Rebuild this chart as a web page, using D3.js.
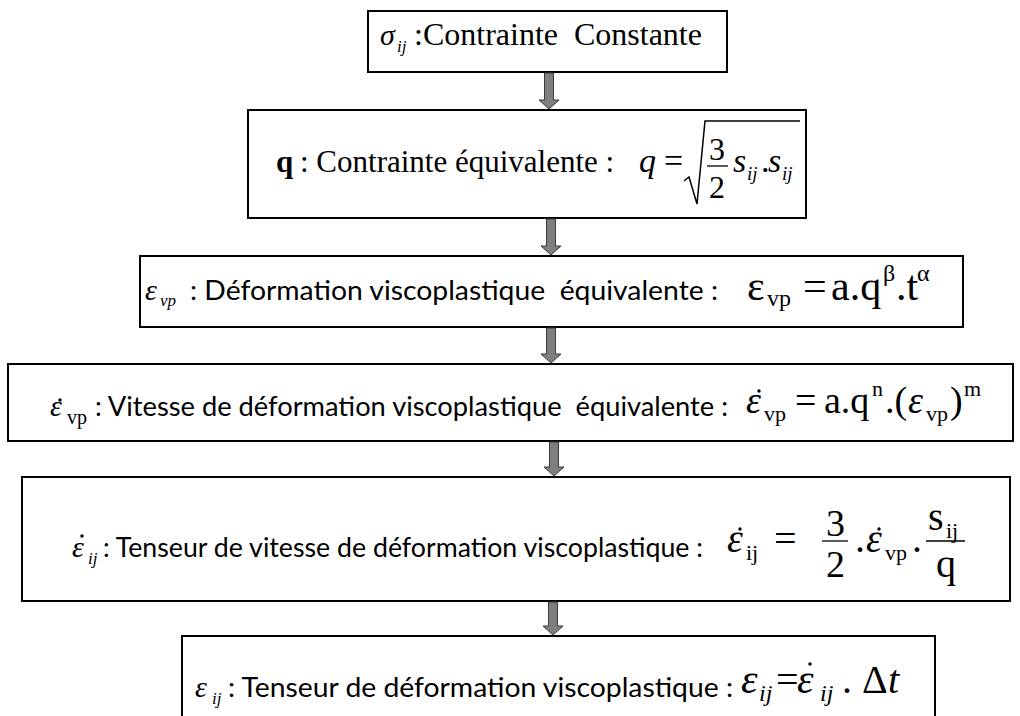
<!DOCTYPE html>
<html><head><meta charset="utf-8">
<script src="https://cdn.jsdelivr.net/npm/d3@7"></script>
<style>body{margin:0;background:#fff} text{white-space:pre}</style>
</head><body><svg id="c" width="1020" height="716"></svg>
<script>
// ---- content ----
const stepSymbols = ["σ", "q", "ε", "ε", "ε", "ε"];
const stepSubs = ["ij", "", "vp", "vp", "ij", "ij"];
const stepLabels = [
  ":Contrainte  Constante",
  ": Contrainte équivalente :",
  ": Déformation viscoplastique  équivalente :",
  ": Vitesse de déformation viscoplastique  équivalente :",
  ": Tenseur de vitesse de déformation viscoplastique :",
  ": Tenseur de déformation viscoplastique :"
];

const svg = d3.select("#c");
const SERIF = "Liberation Serif";
const SANS = "Lato";

// ---- layout ----
const boxes = [[368,11,727,72],[248,110,806,218],[140,256,963,327],[8,364,1013,441],[22,477,1010,601],[182,636,935,730]];
const arrowX = [549,551,551,554,553];

svg.selectAll("rect.box").data(boxes).join("rect").attr("class","box")
  .attr("x",d=>d[0]).attr("y",d=>d[1]).attr("width",d=>d[2]-d[0]).attr("height",d=>d[3]-d[1])
  .attr("fill","#fff").attr("stroke","#000").attr("stroke-width",2);

const arrows = arrowX.map((x,i)=>({x, y0:boxes[i][3]+1, y1:boxes[i+1][1]-1}));
svg.selectAll("path.arrow").data(arrows).join("path").attr("class","arrow")
  .attr("d",a=>{const s=4.5,h=10,l=9;return `M${a.x-s},${a.y0}H${a.x+s}V${a.y1-l}H${a.x+h}L${a.x},${a.y1}L${a.x-h},${a.y1-l}H${a.x-s}Z`;})
  .attr("fill","#7f7f7f").attr("stroke","#3a3a3a").attr("stroke-width",1);

function T(x,y,str,o){
  const t=svg.append("text").attr("x",x).attr("y",y).text(str)
    .style("font-family",o.f||(o.sans?SANS:SERIF)).style("font-size",o.s+"px")
    .style("font-style",o.i?"italic":"normal").style("font-weight",o.b?"bold":"normal").attr("fill","#000");
  if(o.len) t.attr("textLength",o.len).attr("lengthAdjust","spacingAndGlyphs");
  return t;
}
function dot(x,y){svg.append("circle").attr("cx",x).attr("cy",y).attr("r",1.7).attr("fill","#000");}
function line(x1,y1,x2,y2,w){svg.append("line").attr("x1",x1).attr("y1",y1).attr("x2",x2).attr("y2",y2).attr("stroke","#000").attr("stroke-width",w||1.3);}

// Box 1
T(380,45,stepSymbols[0],{s:30,i:true}); T(397,52,stepSubs[0],{s:17,i:true});
T(414,45,stepLabels[0],{s:32});
// Box 2
T(276,172,stepSymbols[1],{s:31,b:true});
T(300,172,stepLabels[1],{s:31});
T(639,172,"q",{s:34,i:true}); T(664,172,"=",{s:34});
svg.append("path").attr("d","M684,181L689,177L697,204L705,121H800").attr("fill","none").attr("stroke","#000").attr("stroke-width",1.5);
T(709,160,"3",{s:32}); line(707,166,728,166); T(709,198,"2",{s:32});
T(733,172,"s",{s:34,i:true}); T(747,180,"ij",{s:19,i:true});
T(761,172,".",{s:34}); T(768,172,"s",{s:34,i:true}); T(782,180,"ij",{s:19,i:true});
// Box 3
T(145,300,stepSymbols[2],{s:30,i:true}); T(160,306,stepSubs[2],{s:17,i:true});
T(190,300,stepLabels[2],{s:26,sans:true,len:528});
T(747,300,"ε",{s:42}); T(767,306,"vp",{s:24});
T(803,300,"=",{s:42}); T(831,300,"a.q",{s:42}); T(883,281,"β",{s:24});
T(896,300,".t",{s:42}); T(917,281,"α",{s:24});
// Box 4
T(50,416,stepSymbols[3],{s:30,i:true}); dot(60,400); T(67,424,stepSubs[3],{s:20});
T(95,416,stepLabels[3],{s:26,sans:true,len:633});
T(746,413,"ε",{s:38,i:true}); dot(759,391); T(764,421,"vp",{s:22});
T(795,413,"=",{s:38}); T(824,413,"a.q",{s:38}); T(872,396,"n",{s:22});
T(885,413,".(",{s:38}); T(908,413,"ε",{s:38,i:true}); T(926,421,"vp",{s:22});
T(950,413,")",{s:38}); T(964,396,"m",{s:22});
// Box 5
T(72,557,stepSymbols[4],{s:30,i:true}); dot(82,536); T(88,564,stepSubs[4],{s:17,i:true});
T(103,557,stepLabels[4],{s:26,sans:true,len:600});
T(727,552,"ε",{s:40,i:true}); dot(740,529); T(746,560,"ij",{s:22});
T(774,552,"=",{s:40});
T(826,536,"3",{s:38}); line(822,541,848,541); T(826,577,"2",{s:38});
T(855,552,".",{s:40}); T(866,552,"ε",{s:40,i:true}); dot(879,529); T(885,560,"vp",{s:22});
T(912,552,".",{s:40});
T(928,530,"s",{s:40}); T(946,538,"ij",{s:22}); line(926,541,965,541); T(936,577,"q",{s:40});
// Box 6
T(195,697,stepSymbols[5],{s:30,i:true}); T(212,704,stepSubs[5],{s:17,i:true});
T(228,697,stepLabels[5],{s:26,sans:true,len:505});
T(741,693,"ε",{s:42,i:true}); T(759,701,"ij",{s:24,i:true});
T(776,693,"=",{s:40});
T(797,693,"ε",{s:42,i:true}); dot(810,664); T(820,701,"ij",{s:24,i:true});
T(842,693,".",{s:40}); T(862,693,"Δ",{s:40}); T(888,693,"t",{s:40,i:true});
</script></body></html>
